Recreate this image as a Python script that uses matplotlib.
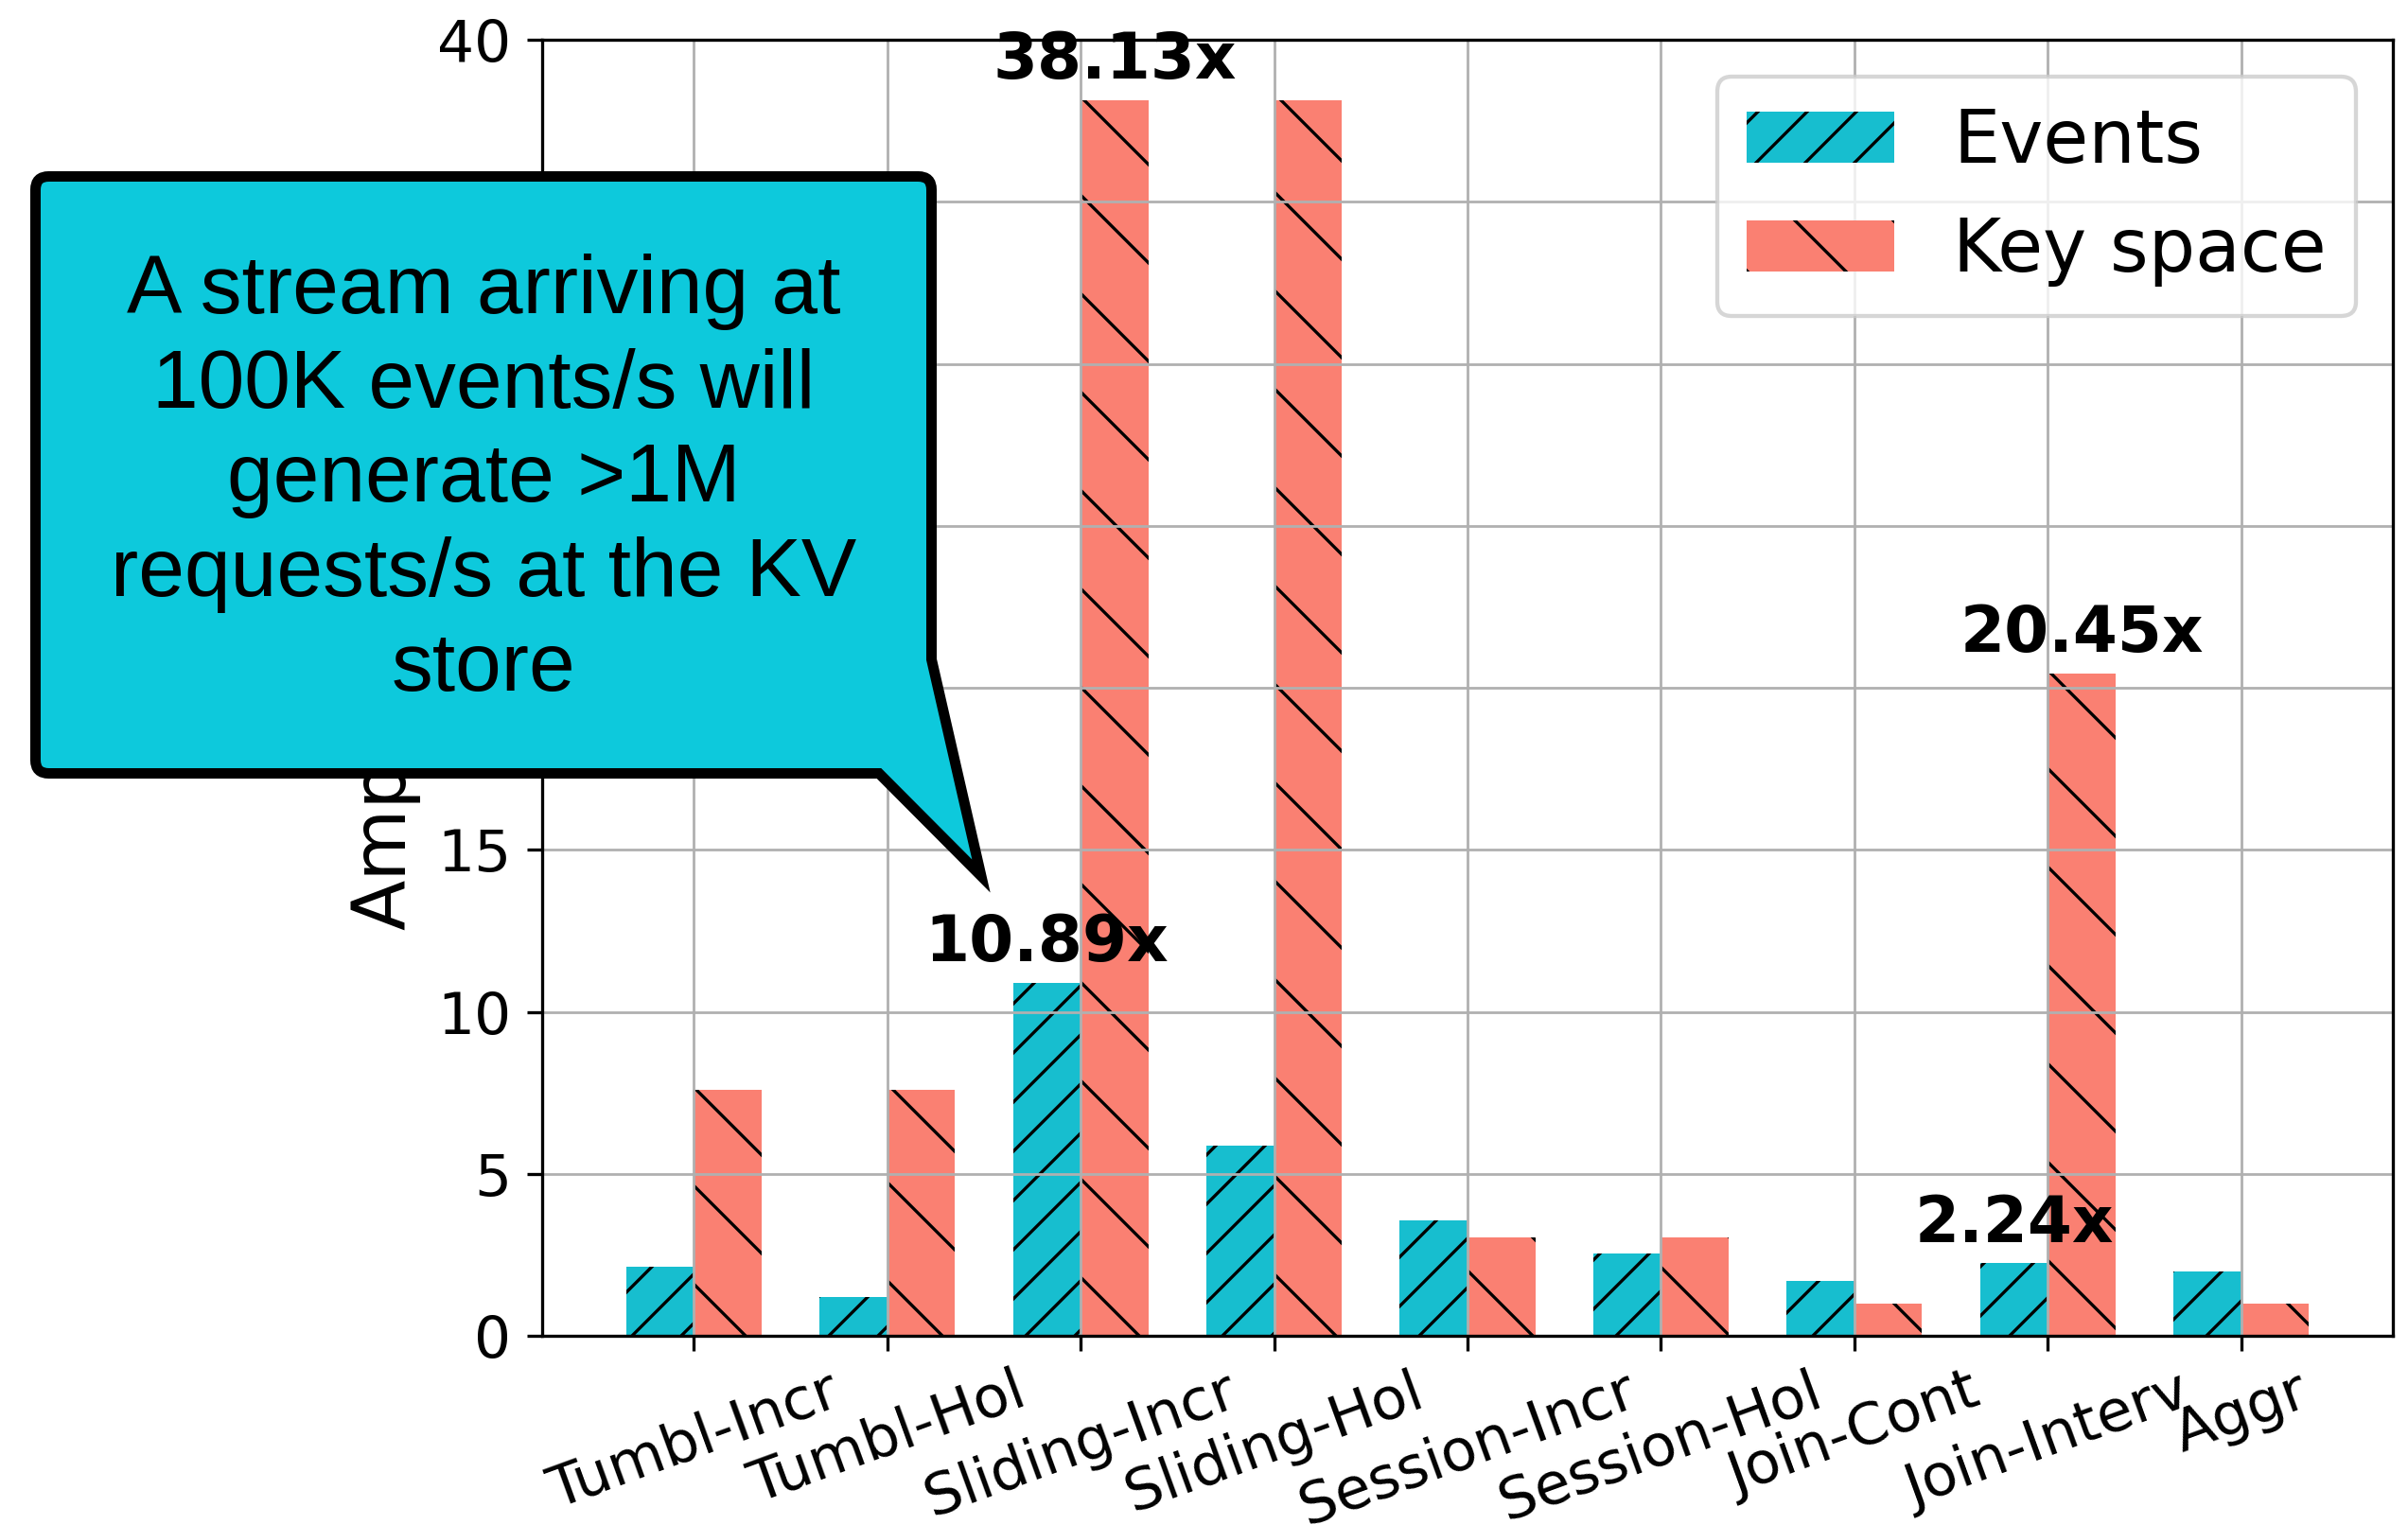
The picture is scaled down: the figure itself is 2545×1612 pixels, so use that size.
import matplotlib
matplotlib.use("Agg")
import matplotlib.pyplot as plt
from matplotlib.path import Path
from matplotlib.patches import PathPatch
import numpy as np

# ---- data ----
categories = ["Tumbl-Incr", "Tumbl-Hol", "Sliding-Incr", "Sliding-Hol",
              "Session-Incr", "Session-Hol", "Join-Cont", "Join-Interv", "Aggr"]
events = [2.13, 1.20, 10.89, 5.87, 3.55, 2.55, 1.70, 2.24, 2.00]
key_space = [7.59, 7.59, 38.13, 38.13, 3.05, 3.05, 1.00, 20.45, 1.00]
y_ticks = [0, 5, 10, 15, 20, 25, 30, 35, 40]

# bars that get a value label: (series, category index)
labelled = [("events", 2), ("events", 7), ("key", 2), ("key", 7)]

callout_text = ("A stream arriving at\n100K events/s will\ngenerate >1M\n"
                "requests/s at the KV\nstore")

# ---- figure ----
W, H, DPI = 2545, 1612, 624
plt.rcParams["hatch.linewidth"] = 0.38
fig = plt.figure(figsize=(W / DPI, H / DPI), dpi=DPI)
ax = fig.add_axes([573 / W, 1 - 1412 / H, (2529 - 573) / W, (1412 - 42) / H])

x = np.arange(len(categories))
w = 0.35
ax.bar(x - w / 2, events, w, color="#17becf", hatch="////", label="Events")
ax.bar(x + w / 2, key_space, w, color="salmon", hatch="\\\\", label="Key space")

ax.set_ylim(0, 40)
ax.set_yticks(y_ticks)
ax.set_xticks(x)
ax.set_xticklabels(categories, rotation=20, ha="center")
ax.tick_params(labelsize=7.1, length=1.8, width=0.38, pad=2.0)
ax.tick_params(axis="x", pad=1.6)
ax.grid(True, color="#b0b0b0", linewidth=0.32)
for s in ax.spines.values():
    s.set_linewidth(0.38)
ax.set_ylabel("Amplification", fontsize=9, labelpad=2.0)

for series, i in labelled:
    if series == "events":
        xv, v = x[i] - w / 2, events[i]
    else:
        xv, v = x[i] + w / 2, key_space[i]
    ax.annotate(f"{v:.2f}x", (xv, v), xytext=(0, 1.0), textcoords="offset points",
                ha="center", va="bottom", fontsize=7.8, fontweight="bold")

leg = ax.legend(loc="upper right", fontsize=9)
leg.get_frame().set_linewidth(0.5)

# ---- speech-bubble callout (pixel coords measured from top-left) ----
L, T, R, B, r = 37.5, 186.5, 984.5, 817.5, 14
tail_top_y, tip, tail_left_x = 697, (1037, 926), 929


def fp(px, py):
    return (px / W, 1 - py / H)


verts = [fp(L + r, T), fp(R - r, T), fp(R, T), fp(R, T + r),
         fp(R, tail_top_y), fp(*tip), fp(tail_left_x, B),
         fp(L + r, B), fp(L, B), fp(L, B - r),
         fp(L, T + r), fp(L, T), fp(L + r, T), fp(L + r, T)]
codes = [Path.MOVETO, Path.LINETO, Path.CURVE3, Path.CURVE3,
         Path.LINETO, Path.LINETO, Path.LINETO,
         Path.LINETO, Path.CURVE3, Path.CURVE3,
         Path.LINETO, Path.CURVE3, Path.CURVE3, Path.CLOSEPOLY]
bubble = PathPatch(Path(verts, codes), transform=fig.transFigure,
                   facecolor="#0dc9dc", edgecolor="black",
                   linewidth=11 * 72 / DPI, joinstyle="miter", zorder=5)
fig.add_artist(bubble)
cx, cy = fp((L + R) / 2, 508)
fig.text(cx, cy, callout_text, ha="center", va="center", multialignment="center",
         fontsize=10.1, family=["Liberation Sans", "DejaVu Sans"],
         linespacing=1.3, zorder=6)

fig.savefig("out.png", dpi=DPI)
